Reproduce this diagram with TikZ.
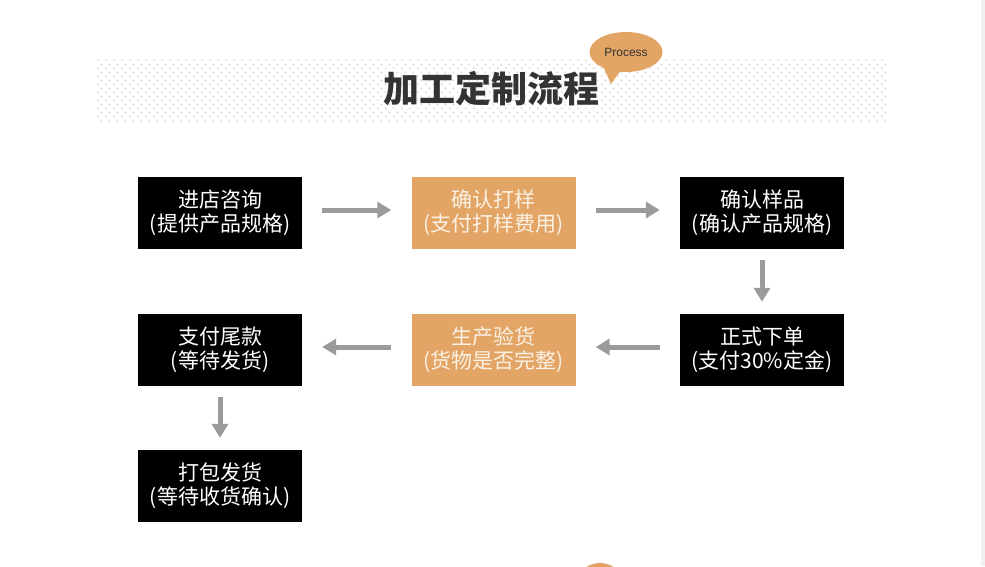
\documentclass[tikz,border=0pt]{standalone}
\usepackage{fontspec}
\newfontfamily\cjk{Noto Sans CJK SC}
\setsansfont{Liberation Sans}
\usetikzlibrary{arrows.meta,patterns.meta,shapes.geometric}

\definecolor{processorange}{HTML}{E3A566}
\definecolor{boxcream}{HTML}{FBF1E4}
\definecolor{arrowgray}{HTML}{9B9B9B}
\definecolor{dotgray}{HTML}{DEDEDE}
\definecolor{titlegray}{HTML}{333333}

\tikzdeclarepattern{
  name=titledots,
  type=uncolored,
  bottom left={(0pt,0pt)},
  top right={(8pt,8pt)},
  tile size={(8pt,8pt)},
  code={\fill (1pt,1pt) rectangle (3pt,3pt);
        \fill (5pt,5pt) rectangle (7pt,7pt);}
}

\begin{document}
\begin{tikzpicture}
[x=1pt,y=-1pt,%
  stepbox/.style={shape=rectangle,minimum width=164pt,minimum height=72pt,inner sep=0pt,align=center,font=\cjk\fontsize{21}{24}\selectfont},%
  darkbox/.style={stepbox,fill=black,text=white},%
  paybox/.style={stepbox,fill=processorange,text=boxcream},%
  linedecorate/.style={-{Triangle[width=16pt,length=14pt]},line width=5pt,draw=arrowgray,shorten >=20pt,shorten <=20pt},%
  downdecorate/.style={linedecorate,shorten >=12pt,shorten <=11pt}]
\useasboundingbox (0,0) rectangle (985,566);
\fill[gray!12] (981,0) rectangle (985,566);

%% title band
\fill[pattern=titledots,pattern color=dotgray] (96,57) rectangle (886,121);
\node (title) at (491,89) [font=\cjk\bfseries\fontsize{36}{40}\selectfont,text=titlegray] {加工定制流程};
\coordinate (tailtip) at (611,84);
\fill[processorange] (602,64) -- (tailtip) -- (621,70) -- cycle;
\node (bubble) at (626,52) [shape=ellipse,fill=processorange,minimum width=73pt,minimum height=40pt,inner sep=0pt,font=\sffamily\fontsize{12}{14}\selectfont,text=titlegray] {Process};

%% nodes or steps
\foreach \nodename/\x/\y/\lineone/\linetwo in {consult/220/213/进店咨询/{(提供产品规格)},
  confirm/762/213/确认样品/{(确认产品规格)}, order/762/350/正式下单/{(支付30\%定金)},
  balance/220/350/支付尾款/{(等待发货)}, ship/220/486/打包发货/{(等待收货确认)}}
{
  \node (\nodename) at (\x,\y) [darkbox] {\lineone\\\linetwo};
}
\foreach \nodename/\x/\y/\lineone/\linetwo in {sample/493.5/213/确认打样/{(支付打样费用)},
  produce/493.5/350/生产验货/{(货物是否完整)}}
{
  \node (\nodename) at (\x,\y) [paybox] {\lineone\\\linetwo};
}

%% arrows
\path
\foreach \startnode/\startside/\endnode/\endside in {consult/east/sample/west, sample/east/confirm/west,
  order/west/produce/east, produce/west/balance/east}
{
  ([yshift=3pt]\startnode.\startside) edge[linedecorate] ([yshift=3pt]\endnode.\endside)
};
\path
\foreach \startnode/\endnode in {confirm/order, balance/ship}
{
  (\startnode) edge[downdecorate] (\endnode)
};

%% next bubble, cut by the page
\begin{scope}
\clip (0,0) rectangle (985,566);
\fill[processorange] (600,585) ellipse [x radius=24pt,y radius=22pt];
\end{scope}
\end{tikzpicture}
\end{document}
